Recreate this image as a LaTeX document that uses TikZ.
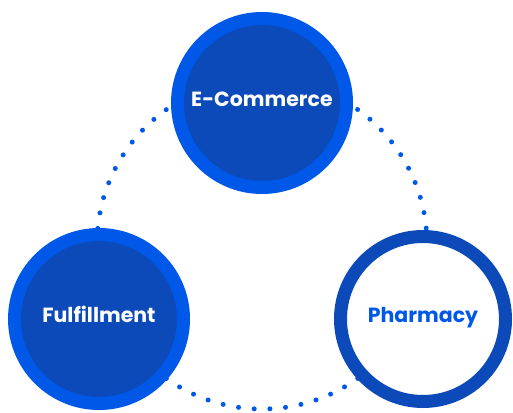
\documentclass[tikz,border=0pt]{standalone}
\usepackage{fontspec}
\setmainfont{Poppins}
\usepackage{xcolor}
\usepackage{tikz}

\definecolor{brightblue}{RGB}{0,88,232}
\definecolor{darkblue}{RGB}{11,74,184}

\tikzset{
  hub/.style={circle, inner sep=0pt, line width=13pt, minimum size=169pt,
    text height=15pt, text depth=9pt,
    font=\fontsize{20.5}{23}\selectfont\bfseries},
  solidhub/.style={hub, draw=brightblue, fill=darkblue, text=white},
  openhub/.style={hub, draw=darkblue, fill=white, text=brightblue, minimum size=165pt}
}

\begin{document}
\begin{tikzpicture}[x=1pt, y=-1pt]
                    \useasboundingbox (0,0) rectangle (513,412);
                    \coordinate (ring) at (262,244);
                    \draw [brightblue, line width=5pt, line cap=round,
                           dash pattern=on 0pt off 15.707pt] (ring) circle [radius=165];
                    \node [solidhub] (ecommerce) at (262,103) {E-Commerce};
                    \node [solidhub] (fulfillment) at (99,319) {Fulfillment};
                    \node [openhub] (pharmacy) at (423,319) {Pharmacy};
                \end{tikzpicture}
\end{document}
